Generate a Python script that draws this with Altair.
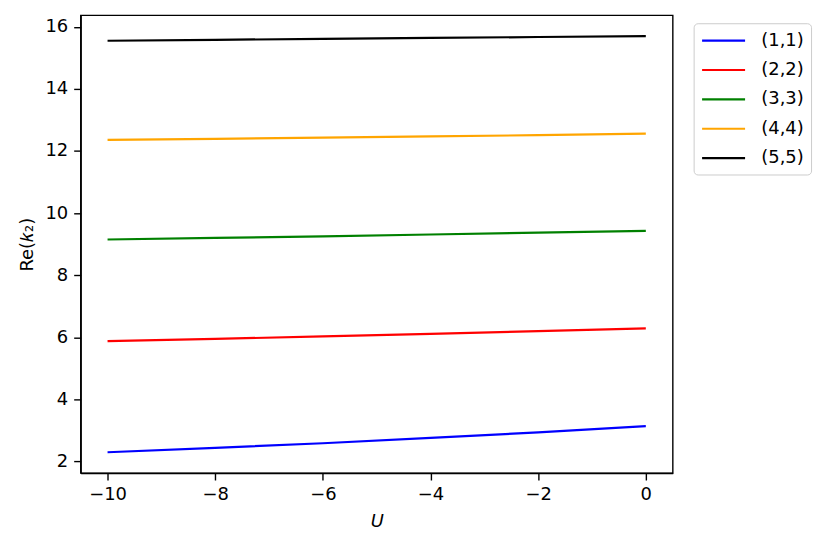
import altair as alt
import pandas as pd

u_vals = [-10, -8, -6, -4, -2, 0]
labels = ["(1,1)", "(2,2)", "(3,3)", "(4,4)", "(5,5)"]
colors = ["#0000ff", "#ff0000", "#008000", "#ffa500", "#000000"]
s11 = [2.30, 2.44, 2.59, 2.76, 2.94, 3.14]
s22 = [5.88, 5.95, 6.03, 6.11, 6.20, 6.29]
s33 = [9.15, 9.20, 9.25, 9.31, 9.37, 9.43]
s44 = [12.36, 12.39, 12.43, 12.47, 12.51, 12.56]
s55 = [15.55, 15.58, 15.61, 15.64, 15.67, 15.70]
series = [s11, s22, s33, s44, s55]

rows = []
for lab, vals in zip(labels, series):
    for u, v in zip(u_vals, vals):
        rows.append({"U": u, "k": v, "mode": lab})
df = pd.DataFrame(rows)

font = "DejaVu Sans"

chart = alt.Chart(df).mark_line(strokeWidth=2.2, clip=True).encode(
    x=alt.X("U:Q", scale=alt.Scale(domain=[-10.5, 0.5], nice=False, zero=False),
            axis=alt.Axis(title="U", values=[-10, -8, -6, -4, -2, 0], titleFontStyle="italic",
                          format="d", labelExpr="replace(datum.label, '-', '\u2212')",
                          titlePadding=9)),
    y=alt.Y("k:Q", scale=alt.Scale(domain=[1.63, 16.37], nice=False, zero=False),
            axis=alt.Axis(title="Re(\U0001D458\u2082)", values=[2, 4, 6, 8, 10, 12, 14, 16],
                          titlePadding=8)),
    color=alt.Color("mode:N", scale=alt.Scale(domain=labels, range=colors),
                    legend=alt.Legend(title=None, orient="none", legendX=616, legendY=8,
                                      symbolType="M-1,0L3.8,0", symbolSize=324,
                                      symbolStrokeWidth=2.2,
                                      labelFontSize=18, labelFont=font, labelColor="black",
                                      strokeColor="#cccccc", cornerRadius=4, padding=7,
                                      rowPadding=9.5, labelOffset=40)),
).properties(
    width=595, height=460,
    autosize=alt.AutoSizeParams(type="none"),
    padding={"left": 73, "top": 6, "right": 150, "bottom": 70},
).configure_view(
    stroke="black", strokeWidth=1.4,
).configure_axis(
    grid=False, domainColor="black", domainWidth=1.4, tickColor="black", tickSize=7,
    tickWidth=1.4, labelFontSize=18, labelFont=font, labelColor="black",
    titleFontSize=18, titleFont=font, titleColor="black", titleFontWeight="normal",
    labelPadding=6,
)

chart.save("out.html", embed_options={"renderer": "svg", "actions": False})
